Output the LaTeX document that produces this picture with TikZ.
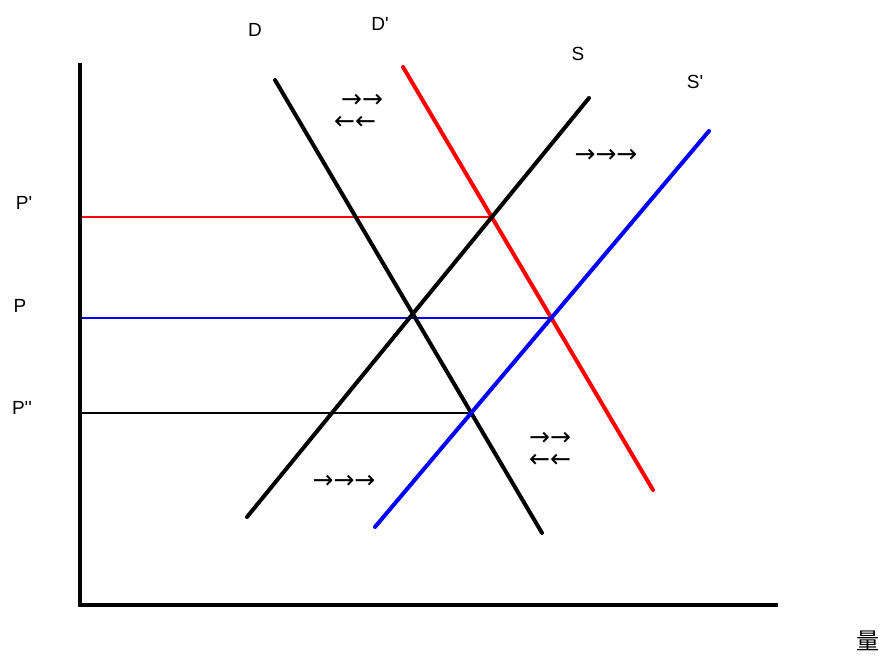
\documentclass[tikz,border=0pt]{standalone}
\usepackage{fontspec}
\setmainfont{Liberation Sans}
\newfontfamily\cjk{Noto Sans CJK SC}
\newfontfamily\arrowfont{DejaVu Sans}
\usetikzlibrary{positioning,intersections}

\begin{document}
\begin{tikzpicture}[x=0.5pt,y=-0.5pt,
  curve/.style={line width=2pt,line cap=round},
  priceline/.style={line width=0.7pt},
  lbl/.style={font=\fontsize{9.5}{11}\selectfont,inner sep=0pt},
  shiftmark/.style={font=\arrowfont\fontsize{12.5}{13}\selectfont,inner sep=0pt,
    text height=4.5pt,text depth=0pt}]
  \useasboundingbox (0,0) rectangle (885,659);
  % 坐标轴
  \coordinate (o) at (80,605);
  \coordinate (ytop) at (80,63);
  \coordinate (xend) at (778,605);
  % 曲线端点
  \coordinate (d1) at (275,80);   \coordinate (d2) at (542,533);
  \coordinate (dp1) at (403,67);  \coordinate (dp2) at (653,490);
  \coordinate (s1) at (247,517);  \coordinate (s2) at (589,98);
  \coordinate (sp1) at (375,527); \coordinate (sp2) at (709,131);
  \path[name path=dd] (d1) -- (d2);
  \path[name path=ddp] (dp1) -- (dp2);
  \path[name path=ss] (s1) -- (s2);
  \path[name path=ssp] (sp1) -- (sp2);
  % 均衡点
  \path[name intersections={of=ss and ddp,by=e1}];
  \path[name intersections={of=ssp and ddp,by=e0}];
  \path[name intersections={of=ssp and dd,by=e2}];
  % 价格线
  \draw[priceline,red] (e1 -| o) -- (e1);
  \draw[priceline,blue] (e0 -| o) -- (e0);
  \draw[priceline,black] (e2 -| o) -- (e2);
  % 曲线
  \draw[curve,black] (d1) -- (d2);
  \draw[curve,red] (dp1) -- (dp2);
  \draw[curve,black] (s1) -- (s2);
  \draw[curve,blue] (sp1) -- (sp2);
  \draw[line width=2.2pt] (ytop) -- (o |- 0,607);
  \draw[line width=2.2pt] (o) -- (xend);
  % 标签
  \node[lbl] (labD) at (255,30) {D};
  \node[lbl] (labDp) at (380,24) {D\textquotesingle};
  \node[lbl] (labS) at (578,54) {S};
  \node[lbl] (labSp) at (695,82) {S\textquotesingle};
  \node[lbl] (labPp) at (24,203) {P\textquotesingle};
  \node[lbl] (labP) at (20,306) {P};
  \node[lbl] (labPpp) at (22,408) {P\textquotesingle\textquotesingle};
  \node[lbl,font=\cjk\fontsize{11.5}{13}\selectfont] (labQ) at (868,641) {量};
  % 移动箭头
  \node[shiftmark] (m1) at (362,103) {→→};
  \node[shiftmark] (m2) at (355,125) {←←};
  \node[shiftmark] (m3) at (606,158) {→→→};
  \node[shiftmark] (m4) at (344,484) {→→→};
  \node[shiftmark] (m5) at (550,441) {→→};
  \node[shiftmark] (m6) at (550,463) {←←};
\end{tikzpicture}
\end{document}
